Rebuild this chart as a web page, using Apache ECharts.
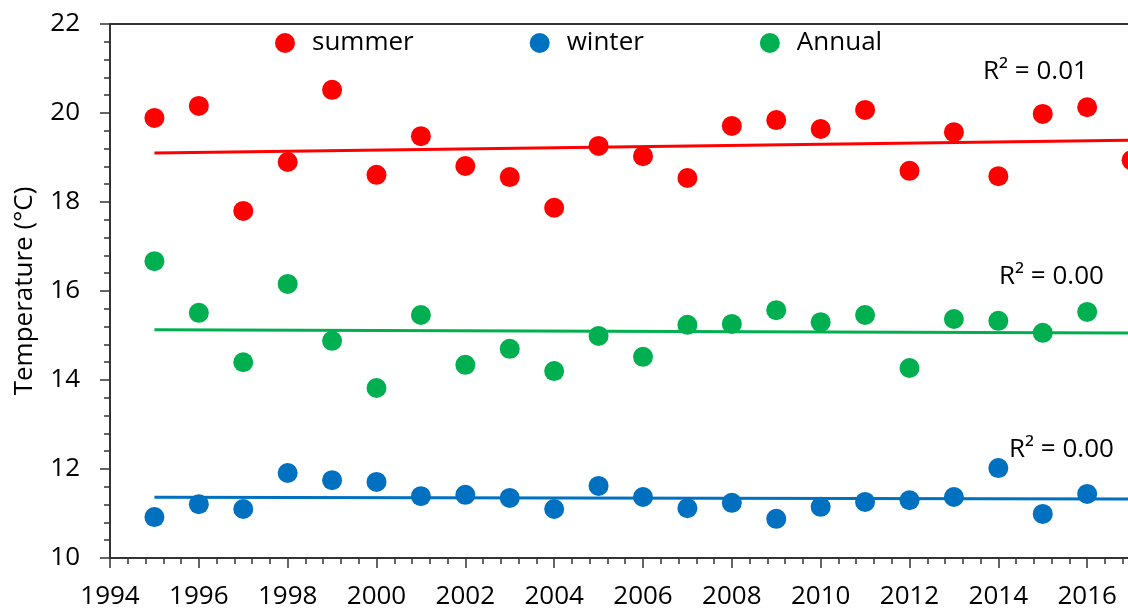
<!DOCTYPE html>
<html>
<head>
<meta charset="utf-8">
<script src="https://cdn.jsdelivr.net/npm/echarts@6/dist/echarts.min.js"></script>
<style>
  html, body { margin: 0; padding: 0; background: #fff; }
  #chart { width: 1128px; height: 612px; }
</style>
</head>
<body>
<div id="chart"></div>
<script>
// data
const summerYears = [1995, 1996, 1997, 1998, 1999, 2000, 2001, 2002, 2003, 2004, 2005, 2006,
  2007, 2008, 2009, 2010, 2011, 2012, 2013, 2014, 2015, 2016, 2017]
const summerTemp = [19.89, 20.16, 17.80, 18.90, 20.52, 18.61, 19.48, 18.81, 18.56, 17.87, 19.26, 19.03,
  18.54, 19.71, 19.84, 19.64, 20.07, 18.70, 19.57, 18.58, 19.98, 20.13, 18.94]

const years = [1995, 1996, 1997, 1998, 1999, 2000, 2001, 2002, 2003, 2004, 2005, 2006,
  2007, 2008, 2009, 2010, 2011, 2012, 2013, 2014, 2015, 2016]
const winterTemp = [10.92, 11.21, 11.10, 11.91, 11.75, 11.71, 11.39, 11.42, 11.35, 11.10, 11.62, 11.37,
  11.12, 11.24, 10.88, 11.15, 11.26, 11.30, 11.37, 12.02, 10.99, 11.44]
const annualTemp = [16.67, 15.51, 14.40, 16.16, 14.88, 13.82, 15.46, 14.34, 14.70, 14.20, 14.99, 14.52,
  15.24, 15.26, 15.57, 15.30, 15.46, 14.27, 15.37, 15.33, 15.06, 15.53]

const trendRange = [1995, 2017]
const r2Labels = ['R² = 0.01', 'R² = 0.00', 'R² = 0.00']

const FONT = '"Open Sans", sans-serif'

function pairs(xs, ys) {
  return xs.map((x, i) => [x, ys[i]])
}

// least squares line, drawn over trendRange
function trend(xs, ys) {
  const n = xs.length
  const mx = xs.reduce((a, b) => a + b, 0) / n
  const my = ys.reduce((a, b) => a + b, 0) / n
  let sxy = 0, sxx = 0
  for (let i = 0; i < n; i++) {
    sxy += (xs[i] - mx) * (ys[i] - my)
    sxx += (xs[i] - mx) * (xs[i] - mx)
  }
  const k = sxy / sxx
  return trendRange.map(x => [x, my + k * (x - mx)])
}

function trendSeries(name, data, color) {
  return {
    name: name,
    type: 'line',
    data: data,
    showSymbol: false,
    silent: true,
    z: 1,
    lineStyle: { color: color, width: 3 }
  }
}

function dotSeries(name, data, color) {
  return {
    name: name,
    type: 'scatter',
    data: data,
    symbol: 'circle',
    symbolSize: 20,
    z: 3,
    itemStyle: { color: color, opacity: 1 }
  }
}

const RED = '#ff0000', BLUE = '#0070c0', GREEN = '#00b050'

const chart = echarts.init(document.getElementById('chart'))

const axisCommon = {
  axisLine: { show: true, lineStyle: { color: '#333', width: 2 } },
  axisTick: { show: true, inside: false, length: 10, lineStyle: { color: '#333', width: 1.5 } },
  minorTick: { show: true, splitNumber: 5, length: 6, lineStyle: { color: '#333', width: 1.5 } },
  splitLine: { show: false },
  axisLabel: { color: '#000', fontSize: 26, fontFamily: FONT, formatter: v => String(v) }
}

chart.setOption({
  backgroundColor: '#fff',
  animation: false,
  grid: {
    left: 110, top: 24, right: -48, bottom: 54,
    outerBoundsMode: 'none',
    containLabel: false,
    show: true, borderColor: '#333', borderWidth: 2, backgroundColor: 'transparent'
  },
  legend: {
    data: ['summer', 'winter', 'Annual'],
    left: 270,
    top: 25,
    icon: 'circle',
    itemWidth: 20,
    itemHeight: 20,
    itemGap: 116,
    textStyle: { color: '#000', fontSize: 26, fontFamily: FONT, padding: [0, 0, 0, 12] }
  },
  xAxis: Object.assign({}, axisCommon, {
    type: 'value',
    min: 1994,
    max: 2018,
    interval: 2,
    axisLabel: Object.assign({}, axisCommon.axisLabel, { margin: 26 })
  }),
  yAxis: Object.assign({}, axisCommon, {
    type: 'value',
    min: 10,
    max: 22,
    interval: 2,
    name: 'Temperature (°C)',
    nameLocation: 'middle',
    nameGap: 72,
    nameTextStyle: { color: '#000', fontSize: 26, fontFamily: FONT },
    axisLabel: Object.assign({}, axisCommon.axisLabel, { margin: 30 })
  }),
  graphic: [
    { type: 'text', x: 983, y: 72, style: { text: r2Labels[0], font: '26px ' + FONT, fill: '#000', textVerticalAlign: 'middle' } },
    { type: 'text', x: 999, y: 277, style: { text: r2Labels[1], font: '26px ' + FONT, fill: '#000', textVerticalAlign: 'middle' } },
    { type: 'text', x: 1009, y: 450, style: { text: r2Labels[2], font: '26px ' + FONT, fill: '#000', textVerticalAlign: 'middle' } }
  ],
  series: [
    trendSeries('summer trend', trend(summerYears, summerTemp), RED),
    trendSeries('winter trend', trend(years, winterTemp), BLUE),
    trendSeries('Annual trend', trend(years, annualTemp), GREEN),
    dotSeries('summer', pairs(summerYears, summerTemp), RED),
    dotSeries('winter', pairs(years, winterTemp), BLUE),
    dotSeries('Annual', pairs(years, annualTemp), GREEN)
  ]
})
</script>
</body>
</html>
